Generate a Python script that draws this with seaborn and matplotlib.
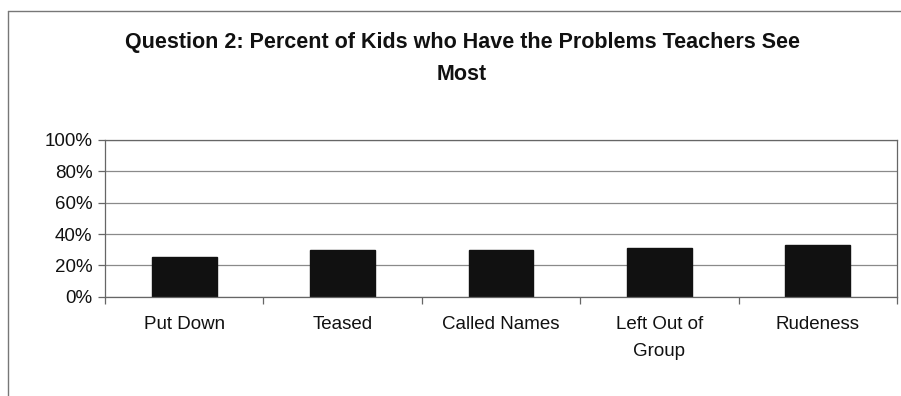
import matplotlib
matplotlib.use("Agg")
import matplotlib.pyplot as plt
import seaborn as sns
import pandas as pd
from matplotlib.lines import Line2D
from matplotlib.ticker import FixedLocator, PercentFormatter

categories = ["Put Down", "Teased", "Called Names", "Left Out of\nGroup", "Rudeness"]
values = [25.1, 29.8, 29.8, 30.9, 33.0]
yticks = [0, 20, 40, 60, 80, 100]
title = "Question 2: Percent of Kids who Have the Problems Teachers See\nMost"

sns.set_theme(style="white")
plt.rcParams['font.family'] = ['Liberation Sans', 'DejaVu Sans']

df = pd.DataFrame({"cat": categories, "val": values})

fig = plt.figure(figsize=(9.01, 3.96), dpi=100)
ax = fig.add_axes([105/901, 1-296.7/396, (897-105)/901, (296.7-140)/396])

sns.barplot(data=df, x="cat", y="val", color="#111111", width=0.41,
            saturation=1, ax=ax, edgecolor="#111111")

ax.set_ylim(0, 100)
ax.set_xlim(-0.5, len(categories) - 0.5)
ax.set_yticks(yticks)
ax.yaxis.set_major_formatter(PercentFormatter(decimals=0))
ax.yaxis.grid(True, color="#8a8a8a", linewidth=0.9)
ax.set_axisbelow(True)
ax.set_xlabel("")
ax.set_ylabel("")

ax.xaxis.set_minor_locator(FixedLocator([i - 0.5 for i in range(len(categories) + 1)]))
ax.tick_params(axis="x", which="major", length=0, labelsize=13.5, pad=14, colors="#111111")
ax.tick_params(axis="x", which="minor", length=5, width=0.9, color="#666666", direction="out", bottom=True)
ax.tick_params(axis="y", which="major", length=5, width=0.9, color="#666666", direction="out",
               left=True, labelsize=13.5, labelcolor="#111111", pad=4)
for lab in ax.get_xticklabels():
    lab.set_linespacing(1.75)
    lab.set_verticalalignment("top")

for s in ["left", "bottom", "right", "top"]:
    ax.spines[s].set_visible(True)
    ax.spines[s].set_color("#666666")
    ax.spines[s].set_linewidth(0.9)

fig.text(462/901, 1-32/396, title, ha="center", va="top", fontsize=15.5,
         fontweight="bold", color="#111111", linespacing=1.7)

# outer chart border (left and top)
fig.add_artist(Line2D([8/901, 8/901], [0, 1-11/396], transform=fig.transFigure,
                      color="#777777", linewidth=1.0))
fig.add_artist(Line2D([8/901, 1], [1-11/396, 1-11/396], transform=fig.transFigure,
                      color="#777777", linewidth=1.0))

fig.savefig("out.png", dpi=100)
